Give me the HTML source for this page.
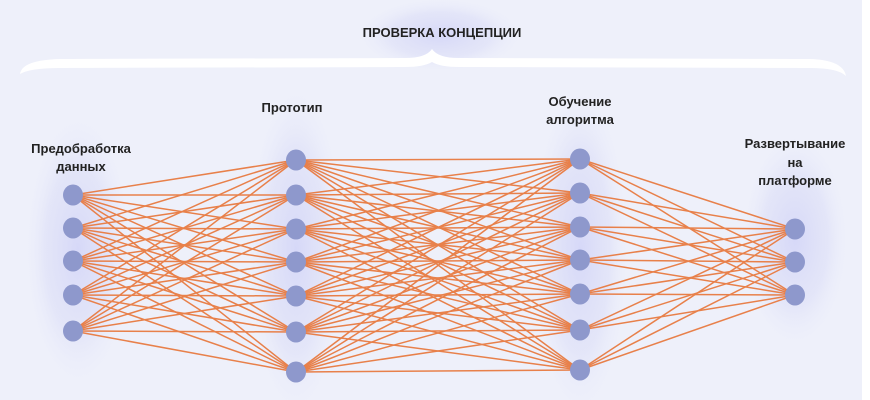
<!DOCTYPE html>
<html><head><meta charset="utf-8"><style>
body{margin:0;background:#fff}
svg{display:block}
text{font-family:"Liberation Sans","DejaVu Sans",sans-serif;font-weight:bold;font-size:13px;fill:#222;text-anchor:middle}
</style></head><body>
<svg width="870" height="400" viewBox="0 0 870 400" xmlns="http://www.w3.org/2000/svg">
<defs>
<radialGradient id="g" cx="50%" cy="50%" r="50%">
<stop offset="0" stop-color="#d6d8f8"/><stop offset="0.6" stop-color="#dfe1f8" stop-opacity="0.7"/><stop offset="1" stop-color="#eef0fa" stop-opacity="0"/>
</radialGradient>
</defs>
<rect width="862" height="400" fill="#eef0fa"/>
<rect x="862" width="8" height="400" fill="#fff"/>
<ellipse cx="440" cy="35" rx="85" ry="38" fill="url(#g)"/>
<ellipse cx="78" cy="250" rx="55" ry="140" fill="url(#g)"/>
<ellipse cx="296" cy="250" rx="50" ry="170" fill="url(#g)"/>
<ellipse cx="580" cy="250" rx="50" ry="170" fill="url(#g)"/>
<ellipse cx="795" cy="240" rx="55" ry="110" fill="url(#g)"/>
<path d="M20 74 Q22 60 60 59 L405 58 Q426 58 432 49 Q438 58 459 58 L810 59 Q843 60 846 76 Q838 68 810 68 L459 67 Q440 67 432 62 Q424 67 405 67 L60 68 Q30 68 20 74Z" fill="#fff"/>
<text x="442" y="37">ПРОВЕРКА КОНЦЕПЦИИ</text>
<text x="81" y="153">Предобработка</text>
<text x="81" y="171">данных</text>
<text x="292" y="112">Прототип</text>
<text x="580" y="106">Обучение</text>
<text x="580" y="124">алгоритма</text>
<text x="795" y="148">Развертывание</text>
<text x="795" y="167">на</text>
<text x="795" y="185">платформе</text>
<g id="lines" stroke="#e8804a" stroke-width="1.5"></g>
<g id="nodes" fill="#8e98cc"></g>
</svg>
<script>
var L=[[73,[195,228,261,295,331]],[296,[160,195,229,262,296,332,372]],[580,[159,193,227,260,294,330,370]],[795,[229,262,295]]];
var ns="http://www.w3.org/2000/svg",lg=document.getElementById("lines"),ng=document.getElementById("nodes");
for(var i=0;i<3;i++){var a=L[i],b=L[i+1];a[1].forEach(function(y1){b[1].forEach(function(y2){var l=document.createElementNS(ns,"line");l.setAttribute("x1",a[0]);l.setAttribute("y1",y1);l.setAttribute("x2",b[0]);l.setAttribute("y2",y2);lg.appendChild(l);});});}
L.forEach(function(c){c[1].forEach(function(y){var e=document.createElementNS(ns,"ellipse");e.setAttribute("cx",c[0]);e.setAttribute("cy",y);e.setAttribute("rx",10);e.setAttribute("ry",10.5);ng.appendChild(e);});});
</script>
</body></html>
